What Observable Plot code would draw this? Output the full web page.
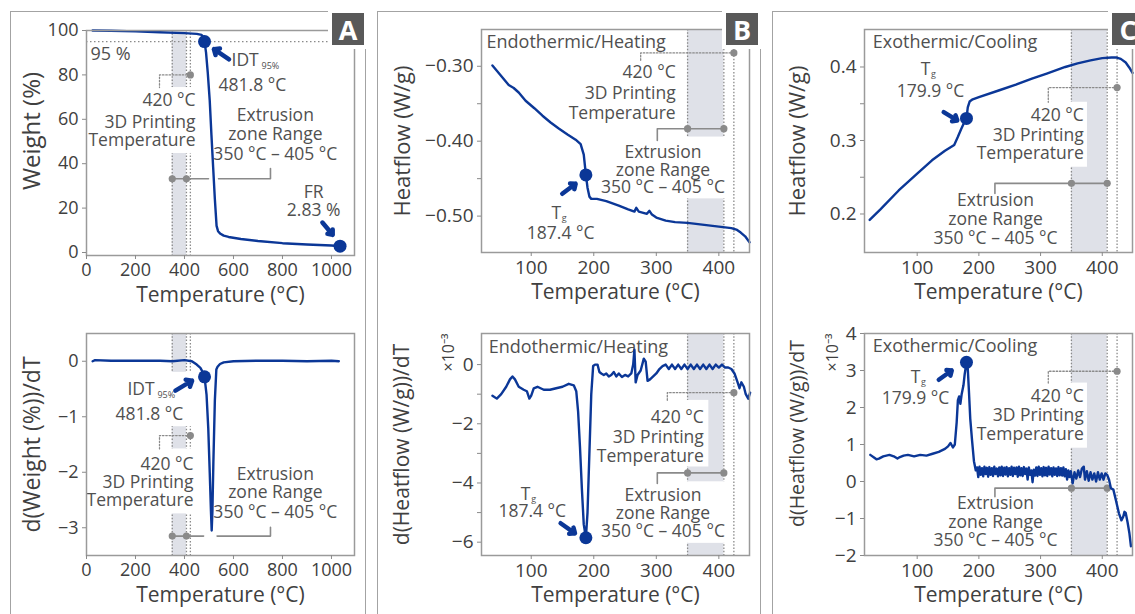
<!DOCTYPE html>
<html><head><meta charset="utf-8">
<script src="https://cdn.jsdelivr.net/npm/d3@7"></script>
<script src="https://cdn.jsdelivr.net/npm/@observablehq/plot@0.6"></script>
<style>
html,body{margin:0;padding:0;background:#fff;}
#root{position:relative;width:1135px;height:614px;overflow:hidden;font-family:"Open Sans",sans-serif;}
.panel{position:absolute;top:11px;height:700px;border:1.6px solid #a3a3a3;box-sizing:border-box;}
.tag{position:absolute;top:13px;width:32px;height:32px;background:#595959;color:#fff;font:bold 27px "Open Sans",sans-serif;display:flex;align-items:center;justify-content:center;outline:4px solid #fff;}
</style></head>
<body><div id="root"></div>
<script>
// ---------------- data ----------------
const tgaCurve = [[25,100],[100,99.9],[200,99.6],[300,99.2],[400,98.8],[450,98.5],[470,98.0],[478,97.0],[481.8,95.0],[488,90.0],[495,81.0],[503,68.5],[510,53.0],[517,38.4],[524,24.0],[531,12.0],[537,9.6],[545,8.6],[560,7.6],[580,7.0],[630,6.1],[700,5.2],[800,4.2],[900,3.6],[1000,3.15],[1035,2.83]];
const dtgCurve = [[25,0],[35,0.02],[100,0.01],[200,0.01],[300,0.01],[350,0.0],[400,0.02],[430,0.0],[450,-0.06],[465,-0.12],[475,-0.2],[481.8,-0.28],[490,-0.6],[497,-1.2],[503,-2.0],[508,-2.7],[511,-3.05],[514,-2.7],[518,-1.8],[524,-0.7],[530,-0.15],[535,-0.1],[545,-0.05],[560,-0.02],[600,0.0],[700,0.01],[800,0.01],[900,0.0],[1000,0.01],[1030,0.0]];
const heatingFlow = [[38,-0.299],[50,-0.311],[64,-0.325],[72,-0.329],[80,-0.335],[91,-0.346],[105,-0.356],[118,-0.366],[131,-0.375],[144,-0.383],[158,-0.391],[171,-0.398],[179,-0.404],[184,-0.418],[187.4,-0.445],[190,-0.462],[193,-0.474],[196,-0.477],[205,-0.477],[220,-0.480],[240,-0.486],[255,-0.491],[265,-0.494],[268,-0.489],[272,-0.494],[285,-0.497],[289,-0.493],[293,-0.498],[300,-0.502],[315,-0.506],[330,-0.508],[350,-0.509],[370,-0.511],[390,-0.513],[410,-0.515],[420,-0.516],[428,-0.518],[435,-0.522],[442,-0.527],[449,-0.535]];
const heatingDeriv = [[38,-1.05],[45,-1.15],[52,-1.0],[60,-0.75],[66,-0.5],[70,-0.4],[74,-0.5],[80,-0.75],[88,-0.85],[93,-0.9],[97,-1.15],[100,-1.05],[104,-0.8],[110,-0.75],[120,-0.85],[130,-0.85],[140,-0.8],[150,-0.75],[160,-0.65],[168,-0.7],[172,-0.9],[175,-1.6],[178,-2.8],[181,-4.2],[184,-5.4],[187.4,-5.85],[190,-5.0],[193,-3.0],[196,-1.0],[199,-0.05],[202,0.0],[206,0.0],[209,-0.25],[212,-0.3],[216,-0.35],[220,-0.3],[224,-0.4],[228,-0.35],[232,-0.25],[236,-0.4],[240,-0.3],[245,-0.42],[250,-0.35],[255,-0.4],[260,-0.3],[263,0.0],[265,0.5],[267,-0.6],[270,-0.35],[275,-0.2],[280,0.2],[283,0.1],[286,-0.55],[290,-0.5],[295,-0.4],[300,-0.3],[305,-0.15],[310,-0.05],[315,0.0],[320,-0.15],[325,0.0],[330,-0.15],[335,0.0],[340,-0.15],[345,0.0],[350,-0.15],[355,0.0],[360,-0.15],[365,0.0],[370,-0.15],[375,0.0],[380,-0.15],[385,0.0],[390,-0.15],[395,0.0],[400,-0.1],[405,0.0],[410,-0.1],[415,-0.1],[420,-0.15],[425,-0.3],[430,-0.6],[433,-0.8],[436,-0.6],[440,-0.75],[443,-1.0],[447,-1.15],[450,-0.95]];
const coolingFlow = [[23,0.192],[40,0.206],[70,0.232],[100,0.255],[124,0.273],[145,0.286],[160,0.294],[166,0.305],[171,0.315],[176,0.324],[179.9,0.330],[182,0.345],[185,0.353],[190,0.356],[200,0.359],[232,0.368],[260,0.376],[286,0.384],[310,0.391],[340,0.400],[360,0.405],[381,0.409],[400,0.412],[415,0.413],[422,0.413],[430,0.411],[438,0.406],[444,0.399],[449,0.392]];
const coolingDeriv = [[24,0.72],[30,0.65],[34,0.6],[38,0.62],[45,0.68],[55,0.72],[62,0.68],[68,0.62],[72,0.66],[78,0.7],[85,0.72],[95,0.68],[105,0.72],[115,0.7],[125,0.75],[135,0.8],[145,0.88],[150,0.95],[154,1.04],[158,0.92],[161,1.0],[164,1.6],[166,2.2],[168,2.3],[170,2.1],[172,2.35],[175,2.6],[177,2.9],[179.9,3.22],[182,3.05],[184,2.4],[186,1.7],[189,1.1],[192,0.55],[195,0.3],
[197,0.38],[199,0.12],[201,0.40],[203,0.18],[205,0.36],[207,0.14],[209,0.40],[211,0.20],[213,0.37],[215,0.13],
[217,0.39],[219,0.18],[221,0.36],[223,0.15],[225,0.40],[227,0.20],[229,0.35],[231,0.14],[233,0.38],[235,0.17],
[237,0.40],[239,0.15],[241,0.37],[243,0.19],[245,0.39],[247,0.14],[249,0.36],[251,0.18],[253,0.40],[255,0.15],
[257,0.37],[259,0.20],[261,0.38],[263,0.13],[265,0.40],[267,0.17],[269,0.36],[271,0.15],[273,0.39],[275,0.20],
[277,0.35],[279,0.05],[281,0.38],[283,0.18],[285,0.30],[287,-0.02],[289,0.32],[291,0.16],[293,0.38],[295,0.15],
[297,0.40],[299,0.18],[301,0.36],[303,0.14],[305,0.39],[307,0.17],[309,0.37],[311,0.15],[313,0.40],[315,0.19],
[317,0.36],[319,0.14],[321,0.38],[323,0.18],[325,0.35],[327,0.15],[329,0.39],[331,0.17],[333,0.36],[335,0.16],
[337,0.38],[339,0.14],[341,0.33],[343,0.05],[345,0.30],[347,0.12],[349,0.28],
[352,-0.05],[355,0.25],[358,0.08],[361,0.30],[364,0.12],[367,0.35],[370,0.40],[372,0.05],[375,0.28],[378,0.02],[381,0.25],[384,0.05],[387,0.22],[390,0.0],[393,0.25],[396,0.05],[399,0.22],[402,0.05],[405,0.22],[408,0.18],[411,0.05],[414,-0.18],[418,-0.22],[422,-0.5],[427,-0.86],[431,-1.05],[434,-0.95],[436,-0.82],[438,-0.85],[441,-1.1],[444,-1.4],[446.5,-1.75]];

const extrusionZone = [350, 408];
const guideTemps = [350, 408, 424];
const printLabel = ["420 °C", "3D Printing", "Temperature"];
const zoneLabel = ["Extrusion", "zone Range", "350 °C – 405 °C"];
const tempTicksA = [0, 200, 400, 600, 800, 1000];
const tempTicksBC = [100, 200, 300, 400];
const weightTicks = [0, 20, 40, 60, 80, 100];
const dtgTicks = [0, -1, -2, -3];
const heatTicks = [-0.30, -0.40, -0.50];
const heatMinor = [-0.35, -0.45];
const heatDerivTicks = [0, -2, -4, -6];
const heatDerivMinor = [-1, -3, -5];
const coolTicks = [0.2, 0.3, 0.4];
const coolMinor = [0.25, 0.35];
const coolDerivTicks = [-2, -1, 0, 1, 2, 3, 4];

// ---------------- styling ----------------
const FONT = '"Open Sans", sans-serif';
const BLUE = "#0b3797";
const BAND = "#dfe1e8";
const GUIDE = "#8a8a8a";
const NOTE = "#505050";
const AXIS = "#404040";
const FS = 17.5;
const root = document.getElementById("root");

function build(c) {
  const m = [];
  m.push(Plot.rect([extrusionZone], {x1: d => d[0], x2: d => d[1], fill: BAND}));
  m.push(Plot.ruleX(guideTemps, {stroke: GUIDE, strokeWidth: 1.3, strokeDasharray: "1.5,1.8"}));
  (c.before || []).forEach(k => m.push(k));
  m.push(Plot.rect(c.boxes, {x1: d => d[0], x2: d => d[1], y1: d => d[2], y2: d => d[3], fill: "white"}));
  m.push(Plot.line(c.printPath, {x: d => d[0], y: d => d[1], stroke: GUIDE, strokeWidth: 1.3, strokeDasharray: "1.5,1.8"}));
  m.push(Plot.line(c.zonePath, {x: d => d[0], y: d => d[1], z: d => d[2], stroke: GUIDE, strokeWidth: 1.6}));
  m.push(Plot.dot([[424, c.printDotY], [350, c.zoneY], [408, c.zoneY]], {x: d => d[0], y: d => d[1], r: 3.6, fill: GUIDE}));
  m.push(Plot.text(printLabel, {x: c.printX, y: (d, i) => c.printY[i], text: d => d, textAnchor: "end", lineAnchor: "middle", fontSize: FS, fill: NOTE}));
  m.push(Plot.text(zoneLabel, {x: c.zoneX, y: (d, i) => c.zoneYs[i], text: d => d, textAnchor: "middle", lineAnchor: "middle", fontSize: FS, fill: NOTE}));
  c.texts.forEach(t => m.push(Plot.text([t], {x: d => d.x, y: d => d.y, text: d => d.t, textAnchor: t.anchor, lineAnchor: "middle", fontSize: t.size || FS, dx: t.dx || 0, dy: t.dy || 0, fill: NOTE})));
  m.push(Plot.line(c.series, {x: d => d[0], y: d => d[1], stroke: BLUE, strokeWidth: 2.4}));
  c.markers.forEach(p => m.push(Plot.dot([p], {x: d => d[0], y: d => d[1], r: 6.5, fill: BLUE})));
  c.arrows.forEach(a => m.push(Plot.arrow([a], {x1: d => d[0], y1: d => d[1], x2: d => d[2], y2: d => d[3], stroke: BLUE, strokeWidth: 4.5, headLength: 8, headAngle: 80})));
  m.push(Plot.frame({stroke: "#9a9a9a", strokeWidth: 1.5}));
  m.push(Plot.axisX({ticks: c.xTicks, tickSize: 4, tickPadding: 4, fontSize: c.tickSize, stroke: GUIDE, fill: AXIS, label: null, tickFormat: d3.format("d")}));
  m.push(Plot.axisY({ticks: c.yTicks, tickSize: 4, tickPadding: 4, fontSize: c.tickSize, stroke: GUIDE, fill: AXIS, label: null, tickFormat: c.yFmt}));
  if (c.yMinor) m.push(Plot.axisY({ticks: c.yMinor, tickSize: 4, tickFormat: () => "", stroke: GUIDE, label: null}));
  m.push(Plot.text(["Temperature (°C)"], {frameAnchor: "bottom", dy: 40, text: d => d, textAnchor: "middle", lineAnchor: "middle", fontSize: 21, fill: AXIS}));
  m.push(Plot.text([c.yTitle], {frameAnchor: "left", dx: c.yTitleDx, dy: c.yTitleDy || 0, rotate: -90, text: d => d, textAnchor: "middle", lineAnchor: "middle", fontSize: c.yTitleSize, fill: AXIS}));
  if (c.exp) m.push(Plot.text(["×10⁻³"], {frameAnchor: "top-left", dx: c.exp, rotate: -90, text: d => d, textAnchor: "end", lineAnchor: "middle", fontSize: 16, fill: AXIS}));

  const ML = 100, MT = 32, MR = 10, MB = 56;
  const svg = Plot.plot({
    width: ML + c.w + MR, height: MT + c.h + MB,
    marginLeft: ML, marginTop: MT, marginRight: MR, marginBottom: MB,
    style: {background: "transparent", overflow: "visible", fontFamily: FONT},
    x: {domain: c.xd}, y: {domain: c.yd},
    marks: m
  });
  svg.style.position = "absolute";
  svg.style.left = (c.fx - ML) + "px";
  svg.style.top = (c.fy - MT) + "px";
  root.appendChild(svg);
}

// panel frames
[[10, 356], [377, 384], [772, 420]].forEach(([l, w]) => {
  const p = document.createElement("div"); p.className = "panel"; p.style.left = l + "px"; p.style.width = w + "px"; root.appendChild(p);
});

// A top
build({
  fx: 86, fy: 30, w: 268, h: 225, xd: [0, 1094], yd: [-1.35, 100],
  series: tgaCurve,
  before: [Plot.ruleY([95], {stroke: GUIDE, strokeWidth: 1.3, strokeDasharray: "1.5,2.5"})],
  boxes: [[16, 450, 44.6, 74.3]],
  printPath: [[424, 80], [298, 80], [298, 74.3]], printDotY: 80,
  printX: 445, printY: [68.5, 58.6, 50.5],
  zoneY: 33.2, zonePath: [[350, 33.2, 0], [498, 33.2, 0], [539, 33.2, 1], [751, 33.2, 1], [751, 37.8, 1]],
  zoneX: 771, zoneYs: [61.7, 53.2, 44.1],
  markers: [[481.8, 95], [1035, 2.83]],
  arrows: [[582, 87.0, 520, 91.6], [963, 13.5, 1005, 8.0]],
  texts: [
    {x: 592, y: 86.5, t: "IDT", anchor: "start"},
    {x: 592, y: 86.5, t: "95%", anchor: "start", dx: 30, dy: 6, size: 9},
    {x: 539, y: 75.2, t: "481.8 °C", anchor: "start"},
    {x: 16, y: 89.5, t: "95 %", anchor: "start", size: 18},
    {x: 927, y: 27.2, t: "FR", anchor: "middle"},
    {x: 927, y: 19, t: "2.83 %", anchor: "middle"}
  ],
  xTicks: tempTicksA, yTicks: weightTicks, yFmt: d3.format("d"), tickSize: 18,
  yTitle: "Weight (%)", yTitleDx: -54, yTitleDy: -12, yTitleSize: 24
});

// A bottom
build({
  fx: 86, fy: 333, w: 268, h: 222, xd: [0, 1094], yd: [-3.5, 0.5],
  series: dtgCurve,
  boxes: [[95, 450, -1.18, -0.2], [8, 450, -2.75, -1.58]],
  printPath: [[424, -1.34], [298, -1.34], [298, -1.58]], printDotY: -1.34,
  printX: 437, printY: [-1.85, -2.18, -2.51],
  zoneY: -3.15, zonePath: [[350, -3.15, 0], [478, -3.15, 0], [533, -3.15, 1], [751, -3.15, 1], [751, -2.99, 1]],
  zoneX: 771, zoneYs: [-2.03, -2.37, -2.72],
  markers: [[481.8, -0.28]],
  arrows: [[363, -0.53, 431, -0.35]],
  texts: [
    {x: 167, y: -0.5, t: "IDT", anchor: "start"},
    {x: 167, y: -0.5, t: "95%", anchor: "start", dx: 30, dy: 6, size: 9},
    {x: 257, y: -0.96, t: "481.8 °C", anchor: "middle"}
  ],
  xTicks: tempTicksA, yTicks: dtgTicks, yFmt: d3.format("d"), tickSize: 18,
  yTitle: "d(Weight (%))/dT", yTitleDx: -54, yTitleSize: 23
});

// B top
build({
  fx: 481, fy: 29, w: 268, h: 223, xd: [20.5, 449], yd: [-0.5486, -0.2509],
  series: heatingFlow,
  boxes: [[213, 412, -0.477, -0.3945]],
  printPath: [[424, -0.2822], [275, -0.2822], [275, -0.292]], printDotY: -0.2822,
  printX: 331, printY: [-0.3076, -0.3365, -0.3624],
  zoneY: -0.3833, zonePath: [[408, -0.3833, 0], [301.6, -0.3833, 0], [301.6, -0.399, 0]],
  zoneX: 310.6, zoneYs: [-0.4146, -0.439, -0.462],
  markers: [[187.4, -0.445]],
  arrows: [[149.6, -0.4702, 171, -0.4568]],
  texts: [
    {x: 28.5, y: -0.2675, t: "Endothermic/Heating", anchor: "start", size: 18},
    {x: 140, y: -0.4965, t: "T", anchor: "middle"},
    {x: 140, y: -0.4965, t: "g", anchor: "middle", dx: 8, dy: 5, size: 9},
    {x: 147, y: -0.5233, t: "187.4 °C", anchor: "middle"}
  ],
  xTicks: tempTicksBC, yTicks: heatTicks, yMinor: heatMinor, yFmt: d3.format(".2f"), tickSize: 19,
  yTitle: "Heatflow (W/g)", yTitleDx: -79, yTitleSize: 22
});

// B bottom
build({
  fx: 481, fy: 333, w: 268, h: 222, xd: [20.5, 449], yd: [-6.45, 1.05],
  series: heatingDeriv,
  boxes: [[203, 384, -3.46, -1.21], [213, 412, -6.04, -3.96]],
  printPath: [[424, -0.95], [317.6, -0.95], [317.6, -1.21]], printDotY: -0.95,
  printX: 376, printY: [-1.80, -2.47, -3.10],
  zoneY: -3.66, zonePath: [[408, -3.66, 0], [301.6, -3.66, 0], [301.6, -4.02, 0]],
  zoneX: 310.6, zoneYs: [-4.41, -5.03, -5.62],
  markers: [[187.4, -5.85]],
  arrows: [[147, -5.36, 170, -5.70]],
  texts: [
    {x: 32, y: 0.58, t: "Endothermic/Heating", anchor: "start", size: 18},
    {x: 91, y: -4.39, t: "T", anchor: "middle"},
    {x: 91, y: -4.39, t: "g", anchor: "middle", dx: 8, dy: 5, size: 9},
    {x: 101.6, y: -4.96, t: "187.4 °C", anchor: "middle"}
  ],
  xTicks: tempTicksBC, yTicks: heatDerivTicks, yMinor: heatDerivMinor, yFmt: d3.format("d"), tickSize: 19,
  yTitle: "d(Heatflow (W/g))/dT", yTitleDx: -79, yTitleSize: 21, exp: -33
});

// C top
build({
  fx: 864, fy: 29, w: 268, h: 223, xd: [14.6, 449], yd: [0.1476, 0.451],
  series: coolingFlow,
  boxes: [[195, 376, 0.2636, 0.352]],
  printPath: [[424, 0.372], [312.5, 0.372], [312.5, 0.352]], printDotY: 0.372,
  printX: 370, printY: [0.3341, 0.3068, 0.2818],
  zoneY: 0.2417, zonePath: [[408, 0.2417, 0], [226, 0.2417, 0], [226, 0.228, 0]],
  zoneX: 227, zoneYs: [0.2182, 0.1922, 0.1672],
  markers: [[179.9, 0.33]],
  arrows: [[143, 0.3386, 165, 0.3273]],
  texts: [
    {x: 28, y: 0.434, t: "Exothermic/Cooling", anchor: "start", size: 18},
    {x: 113.5, y: 0.3965, t: "T", anchor: "middle"},
    {x: 113.5, y: 0.3965, t: "g", anchor: "middle", dx: 8, dy: 5, size: 9},
    {x: 121.6, y: 0.3668, t: "179.9 °C", anchor: "middle"}
  ],
  xTicks: tempTicksBC, yTicks: coolTicks, yMinor: coolMinor, yFmt: d3.format(".1f"), tickSize: 19,
  yTitle: "Heatflow (W/g)", yTitleDx: -67, yTitleSize: 22
});

// C bottom
build({
  fx: 864, fy: 333, w: 268, h: 222, xd: [14.6, 449], yd: [-2, 4],
  series: coolingDeriv,
  boxes: [[195, 376, 0.90, 2.66]],
  printPath: [[424, 2.98], [312.5, 2.98], [312.5, 2.66]], printDotY: 2.98,
  printX: 370, printY: [2.30, 1.80, 1.26],
  zoneY: -0.18, zonePath: [[408, -0.18, 0], [226, -0.18, 0], [226, -0.41, 0]],
  zoneX: 227, zoneYs: [-0.60, -1.11, -1.58],
  markers: [[179.9, 3.22]],
  arrows: [[135, 2.75, 156, 3.0]],
  texts: [
    {x: 28, y: 3.65, t: "Exothermic/Cooling", anchor: "start", size: 18},
    {x: 97.3, y: 2.82, t: "T", anchor: "middle"},
    {x: 97.3, y: 2.82, t: "g", anchor: "middle", dx: 8, dy: 5, size: 9},
    {x: 97.3, y: 2.24, t: "179.9 °C", anchor: "middle"}
  ],
  xTicks: tempTicksBC, yTicks: coolDerivTicks, yFmt: d3.format("d"), tickSize: 19,
  yTitle: "d(Heatflow (W/g))/dT", yTitleDx: -67, yTitleDy: -11, yTitleSize: 19.5, exp: -32
});

[["A", 332], ["B", 726], ["C", 1112]].forEach(([tag, tl]) => {
  const t = document.createElement("div"); t.className = "tag"; t.style.left = tl + "px"; t.textContent = tag; root.appendChild(t);
});
</script></body></html>
